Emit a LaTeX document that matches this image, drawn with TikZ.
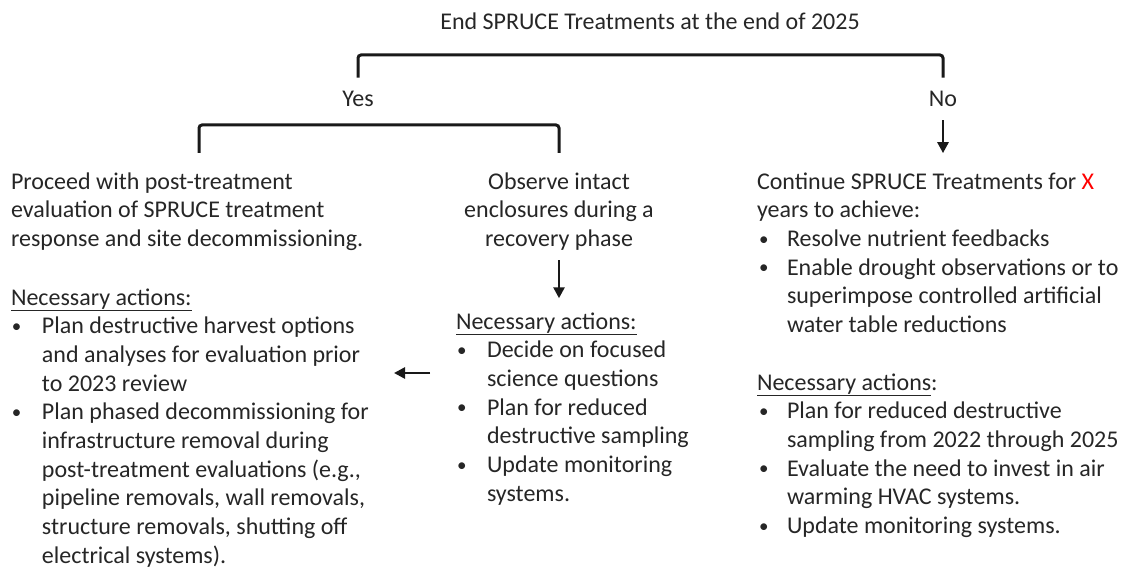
\documentclass[tikz,border=0pt]{standalone}
\usepackage{fontspec}
\setmainfont{Carlito}
\usetikzlibrary{arrows.meta,calc}
\newcommand{\blkfont}{\fontsize{24}{28.7}\selectfont}
\newcommand{\smbul}{\raisebox{1.2pt}{\fontsize{19}{19}\selectfont\textbullet}}
\newcommand{\bitem}[2]{\par\hangindent=#1\hangafter=1\noindent\makebox[#1][l]{\hspace{#2}\smbul}}
\tikzset{
  txt/.style={inner sep=0pt, outer sep=0pt, text=black!85, font=\blkfont},
  brk/.style={line width=3pt, rounded corners=3pt, draw=black!90},
  arr/.style={line width=2.6pt, draw=black!90, -{Triangle[length=11pt,width=11pt]}}
}
\begin{document}
\begin{tikzpicture}[x=1pt,y=-1pt]
\useasboundingbox (0,0) rectangle (1127,567);
% title and branch labels
\node[txt, anchor=base] (title) at (650,30) {End SPRUCE Treatments at the end of 2025};
\node[txt, anchor=base] (yes) at (358,107) {Yes};
\node[txt, anchor=base] (no) at (943,107) {No};
\coordinate (tb) at (651,55);
\coordinate (yb) at (379,125);
\coordinate (ylleg) at (199,153);
% left block
\node[txt, anchor=base west] (lefttop) at (11,189) {\begin{minipage}[t]{400pt}\blkfont\raggedright
Proceed with post-treatment\\
evaluation of SPRUCE treatment\\
response and site decommissioning.\end{minipage}};
\node[txt, anchor=base west] (leftact) at (11,305) {\begin{minipage}[t]{400pt}\blkfont\raggedright
\underline{Necessary actions:}
\bitem{31pt}{1pt}Plan destructive harvest options\newline
and analyses for evaluation prior\newline
to 2023 review
\bitem{31pt}{1pt}Plan phased decommissioning for\newline
infrastructure removal during\newline
post-treatment evaluations (e.g.,\newline
pipeline removals, wall removals,\newline
structure removals, shutting off\newline
electrical systems).\end{minipage}};
% middle block
\node[txt, anchor=base] (midtop) at (559,189) {\begin{minipage}[t]{260pt}\blkfont\centering
Observe intact\\
enclosures during a\\
recovery phase\end{minipage}};
\node[txt, anchor=base west] (midact) at (456,329) {\begin{minipage}[t]{260pt}\blkfont\raggedright
\underline{Necessary actions:}
\bitem{31pt}{1pt}Decide on focused\newline
science questions
\bitem{31pt}{1pt}Plan for reduced\newline
destructive sampling
\bitem{31pt}{1pt}Update monitoring\newline
systems.\end{minipage}};
% right block
\node[txt, anchor=base west] (righttop) at (757,189) {\begin{minipage}[t]{370pt}\blkfont\raggedright
Continue SPRUCE Treatments for \textcolor{red}{X}\\
years to achieve:
\bitem{30pt}{2pt}Resolve nutrient feedbacks
\bitem{30pt}{2pt}Enable drought observations or to\newline
superimpose controlled artificial\newline
water table reductions\end{minipage}};
\node[txt, anchor=base west] (rightact) at (757,390) {\begin{minipage}[t]{370pt}\blkfont\raggedright
\underline{Necessary actions}:
\bitem{30pt}{2pt}Plan for reduced destructive\newline
sampling from 2022 through 2025
\bitem{30pt}{2pt}Evaluate the need to invest in air\newline
warming HVAC systems.
\bitem{30pt}{2pt}Update monitoring systems.\end{minipage}};
\coordinate (la1) at (430,373);
\coordinate (la2) at (394,373);
% connectors
\draw[brk] ($(yes.north)+(0,-14)$) |- (tb) -| ($(no.north)+(0,-14)$);
\draw[brk] (ylleg) |- (yb) -| (midtop.north |- ylleg);
\draw[arr] ($(no.south)+(0,13)$) -- ++(0,33);
\draw[arr] ($(midtop.south)+(0,10)$) -- ++(0,38);
\draw[arr] (la1) -- (la2);
\end{tikzpicture}
\end{document}
